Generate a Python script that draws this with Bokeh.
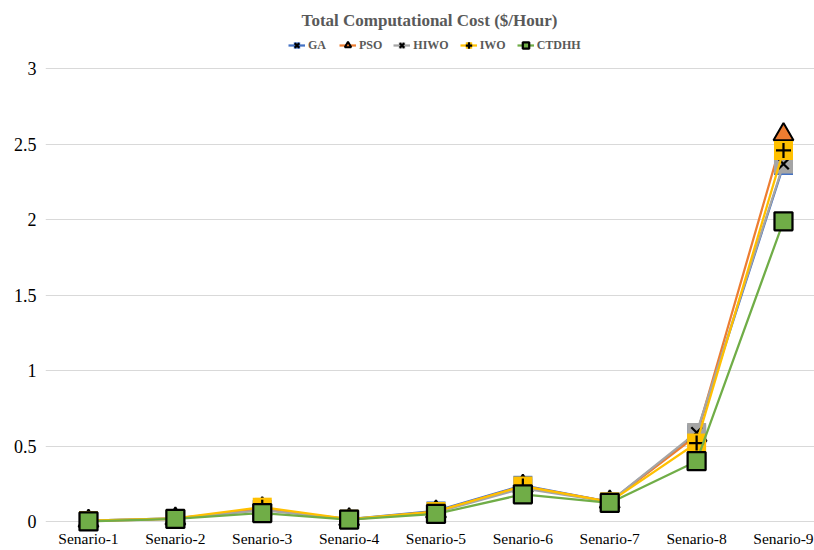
from bokeh.plotting import figure
from bokeh.models import Range1d, Legend, LegendItem, FixedTicker, ColumnDataSource, Label
from bokeh.embed import file_html
from bokeh.resources import INLINE

categories = ["Senario-1", "Senario-2", "Senario-3", "Senario-4", "Senario-5",
              "Senario-6", "Senario-7", "Senario-8", "Senario-9"]
ga = [0.005, 0.02, 0.08, 0.015, 0.07, 0.24, 0.13, 0.58, 2.36]
pso = [0.003, 0.018, 0.085, 0.013, 0.065, 0.235, 0.13, 0.57, 2.565]
hiwo = [0.005, 0.02, 0.075, 0.015, 0.06, 0.22, 0.13, 0.59, 2.37]
iwo = [0.005, 0.02, 0.095, 0.015, 0.066, 0.235, 0.13, 0.52, 2.46]
ctdhh = [0.0, 0.017, 0.056, 0.013, 0.05, 0.18, 0.123, 0.40, 1.99]
y_ticks = [0, 0.5, 1, 1.5, 2, 2.5, 3]
y_tick_labels = ["0", "0.5", "1", "1.5", "2", "2.5", "3"]
title_text = "Total Computational Cost ($/Hour)"

xs = list(range(1, len(categories) + 1))
FONT = "Liberation Serif"

p = figure(width=814, height=550, output_backend="svg", toolbar_location=None,
           title=None,
           x_range=Range1d(0.505, 9.357), y_range=Range1d(-0.073, 3.454),
           min_border_left=45, min_border_right=0, min_border_top=0, min_border_bottom=18)
p.outline_line_color = None
p.background_fill_color = "white"
p.border_fill_color = "white"

p.xgrid.grid_line_color = None
p.ygrid.grid_line_color = "#D9D9D9"
p.ygrid.grid_line_width = 1
p.ygrid.ticker = FixedTicker(ticks=y_ticks)

p.xaxis.ticker = FixedTicker(ticks=xs)
p.xaxis.major_label_overrides = {x: c for x, c in zip(xs, categories)}
p.xaxis.axis_line_color = None
p.xaxis.major_tick_line_color = None
p.xaxis.minor_tick_line_color = None
p.xaxis.major_tick_out = 0
p.xaxis.major_tick_in = 0
p.xaxis.minor_tick_out = 0
p.xaxis.major_label_text_font = FONT
p.xaxis.major_label_text_font_size = "15.5px"
p.xaxis.major_label_text_color = "#000000"
p.xaxis.major_label_text_line_height = 0.6
p.xaxis.major_label_standoff = -3

p.yaxis.ticker = FixedTicker(ticks=y_ticks)
p.yaxis.major_label_overrides = {t: l for t, l in zip(y_ticks, y_tick_labels)}
p.yaxis.axis_line_color = None
p.yaxis.major_tick_line_color = None
p.yaxis.minor_tick_line_color = None
p.yaxis.major_tick_out = 0
p.yaxis.major_tick_in = 0
p.yaxis.minor_tick_out = 0
p.yaxis.major_label_text_font = FONT
p.yaxis.major_label_text_font_size = "18px"
p.yaxis.major_label_text_color = "#000000"
p.yaxis.major_label_standoff = 9

series = [
    ("GA", ga, "#4472C4", "square", "#4472C4", "x"),
    ("PSO", pso, "#ED7D31", "triangle", "#ED7D31", None),
    ("HIWO", hiwo, "#A5A5A5", "square", "#A5A5A5", "x"),
    ("IWO", iwo, "#FFC000", "square", "#FFC000", "cross"),
    ("CTDHH", ctdhh, "#70AD47", "square", "#70AD47", None),
]

items = []
for name, vals, color, bg_marker, fill, fg_marker in series:
    src = ColumnDataSource(dict(x=xs, y=vals))
    rl = p.line("x", "y", source=src, line_color=color, line_width=2.25)
    rends = [rl]
    if bg_marker == "triangle":
        rm = p.scatter("x", "y", source=src, marker="triangle", size=20,
                       fill_color=fill, line_color="black", line_width=2)
        rends.append(rm)
    elif fg_marker is None:
        rm = p.scatter("x", "y", source=src, marker="square", size=18,
                       fill_color=fill, line_color="black", line_width=2.25)
        rends.append(rm)
    else:
        rb = p.scatter("x", "y", source=src, marker="square", size=19,
                       fill_color=fill, line_color=None)
        rf = p.scatter("x", "y", source=src, marker=fg_marker, size=15,
                       line_color="black", line_width=2.25)
        rends += [rb, rf]
    items.append(LegendItem(label=name, renderers=rends))

legend = Legend(items=items, orientation="horizontal", location=(243, 479),
                glyph_width=17, glyph_height=16, label_standoff=3, spacing=11,
                padding=0, margin=0, border_line_color=None,
                background_fill_alpha=0, label_text_font=FONT,
                label_text_font_size="12px", label_text_font_style="bold",
                label_text_color="#595959", label_height=16)
p.add_layout(legend, "center")

title = Label(x=384, y=512, x_units="screen", y_units="screen", text=title_text,
              text_align="center", text_baseline="middle", text_font=FONT,
              text_font_size="17px", text_font_style="bold", text_color="#595959")
p.add_layout(title)

open("out.html", "w").write(file_html(p, INLINE))
